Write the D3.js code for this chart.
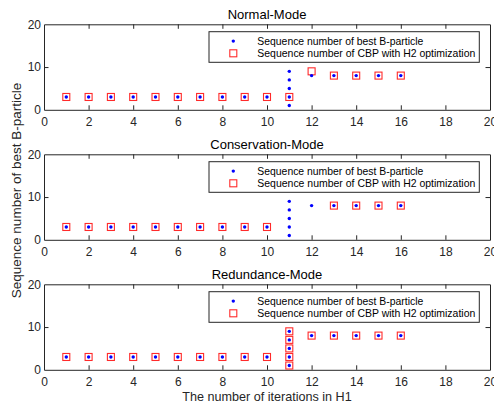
<!DOCTYPE html>
<html>
<head>
<meta charset="utf-8">
<script src="https://cdn.jsdelivr.net/npm/d3@7"></script>
<style>
  html, body { margin: 0; padding: 0; background: #fff; }
  svg { display: block; font-family: "Liberation Sans", Arial, sans-serif; }
</style>
</head>
<body>
<svg id="chart" width="494" height="408"></svg>
<script>
// Iteration axis and per-mode sequence numbers
const xTicks = [0, 2, 4, 6, 8, 10, 12, 14, 16, 18, 20];
const yTicks = [0, 10, 20];
const modeTitles = ["Normal-Mode", "Conservation-Mode", "Redundance-Mode"];

// Best B-particle sequence numbers (iteration, sequence) — same in every mode
const bestIter = [1, 2, 3, 4, 5, 6, 7, 8, 9, 10, 11, 11, 11, 11, 11, 12, 13, 14, 15, 16];
const bestSeq  = [3, 3, 3, 3, 3, 3, 3, 3, 3, 3, 1, 3, 5, 7, 9, 8, 8, 8, 8, 8];

// CBP with H2 optimization
const normalIter = [1, 2, 3, 4, 5, 6, 7, 8, 9, 10, 11, 12, 13, 14, 15, 16];
const normalSeq  = [3, 3, 3, 3, 3, 3, 3, 3, 3, 3, 3, 9, 8, 8, 8, 8];
const conservIter = [1, 2, 3, 4, 5, 6, 7, 8, 9, 10, 13, 14, 15, 16];
const conservSeq  = [3, 3, 3, 3, 3, 3, 3, 3, 3, 3, 8, 8, 8, 8];
const redundIter = [1, 2, 3, 4, 5, 6, 7, 8, 9, 10, 11, 11, 11, 11, 11, 12, 13, 14, 15, 16];
const redundSeq  = [3, 3, 3, 3, 3, 3, 3, 3, 3, 3, 1, 3, 5, 7, 9, 8, 8, 8, 8, 8];

const legendLabels = ["Sequence number of best B-particle", "Sequence number of CBP with H2 optimization"];
const yLabel = "Sequence number of best B-particle";
const xLabel = "The number of iterations in H1";

const cbpSets = [[normalIter, normalSeq], [conservIter, conservSeq], [redundIter, redundSeq]];
const bestPts = bestIter.map((x, i) => [x, bestSeq[i]]);

const svg = d3.select("#chart");
const axisColor = "#262626";
const left = 44, right = 490;
const panelTops = [24.3, 154.3, 284.3];
const panelH = 85.5;

const x = d3.scaleLinear().domain([0, 20]).range([left, right]);

panelTops.forEach((top, p) => {
  const y = d3.scaleLinear().domain([0, 20]).range([top + panelH, top]);
  const g = svg.append("g");

  // Axes with inward ticks on all four sides
  const tick = 4.5;
  const bottomAx = g.append("g").attr("transform", `translate(0,${top + panelH})`)
    .call(d3.axisBottom(x).tickValues(xTicks).tickSizeInner(-tick).tickSizeOuter(0).tickPadding(8));
  const topAx = g.append("g").attr("transform", `translate(0,${top})`)
    .call(d3.axisTop(x).tickValues(xTicks).tickSizeInner(-tick).tickSizeOuter(0).tickFormat(""));
  const leftAx = g.append("g").attr("transform", `translate(${left},0)`)
    .call(d3.axisLeft(y).tickValues(yTicks).tickSizeInner(-tick).tickSizeOuter(0).tickPadding(3));
  const rightAx = g.append("g").attr("transform", `translate(${right},0)`)
    .call(d3.axisRight(y).tickValues(yTicks).tickSizeInner(-tick).tickSizeOuter(0).tickFormat(""));
  [bottomAx, topAx, leftAx, rightAx].forEach(a => {
    a.select(".domain").attr("stroke", axisColor).attr("stroke-width", 1);
    a.selectAll(".tick line").attr("stroke", axisColor);
    a.selectAll("text").attr("fill", axisColor).attr("font-size", 12)
      .attr("font-family", "\"Liberation Sans\", Arial, sans-serif");
    // ticks at the box corners coincide with the frame
    a.selectAll(".tick line").filter(d => d === 0 || d === 20).remove();
  });

  // Title
  g.append("text").attr("x", (left + right) / 2).attr("y", top - 5)
    .attr("text-anchor", "middle").attr("font-size", 13).attr("fill", "#000")
    .text(modeTitles[p]);

  // CBP squares
  const [ci, cs] = cbpSets[p];
  const sq = 7;
  g.selectAll("rect.cbp").data(ci.map((v, i) => [v, cs[i]])).join("rect")
    .attr("class", "cbp")
    .attr("x", d => x(d[0]) - sq / 2).attr("y", d => y(d[1]) - sq / 2)
    .attr("width", sq).attr("height", sq)
    .attr("fill", "none").attr("stroke", "#ff2a2a").attr("stroke-width", 1.1);

  // Best B-particle dots
  g.selectAll("circle.best").data(bestPts).join("circle")
    .attr("class", "best")
    .attr("cx", d => x(d[0])).attr("cy", d => y(d[1])).attr("r", 1.7)
    .attr("fill", "#0000ff");

  // Legend
  const lx = 209, ly = top + 7.4, lw = 270.3, lh = 30.6;
  g.append("rect").attr("x", lx).attr("y", ly).attr("width", lw).attr("height", lh)
    .attr("fill", "#fff").attr("stroke", axisColor).attr("stroke-width", 1);
  const r1 = ly + 9.4, r2 = ly + 21.6;
  g.append("circle").attr("cx", 233.3).attr("cy", r1).attr("r", 1.7).attr("fill", "#0000ff");
  g.append("rect").attr("x", 233.3 - sq / 2).attr("y", r2 - sq / 2).attr("width", sq).attr("height", sq)
    .attr("fill", "none").attr("stroke", "#ff2a2a").attr("stroke-width", 1.1);
  const textWidths = [166, 218];
  [r1, r2].forEach((ry, i) => {
    g.append("text").attr("x", 257.3).attr("y", ry).attr("dy", "0.35em")
      .attr("font-size", 11).attr("fill", "#000")
      .attr("textLength", textWidths[i]).attr("lengthAdjust", "spacingAndGlyphs")
      .text(legendLabels[i]);
  });
});

// Shared axis labels
svg.append("text").attr("transform", "translate(20.5,190.5) rotate(-90)")
  .attr("text-anchor", "middle").attr("font-size", 13.5).attr("fill", axisColor).text(yLabel);
svg.append("text").attr("x", (left + right) / 2).attr("y", 400.7)
  .attr("text-anchor", "middle").attr("font-size", 12.6).attr("fill", axisColor).text(xLabel);
</script>
</body>
</html>
